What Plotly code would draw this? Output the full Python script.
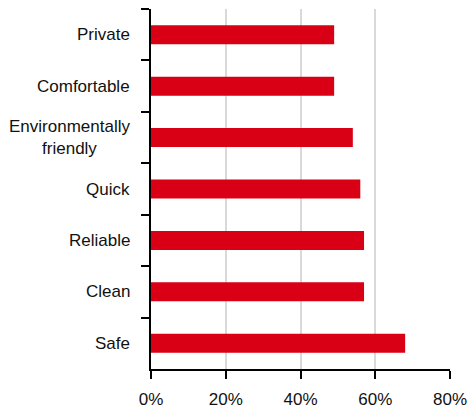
import plotly.graph_objects as go

# Share of respondents describing the car with each attribute
categories = ["Private", "Comfortable", "Environmentally<br>friendly", "Quick",
              "Reliable", "Clean", "Safe"]
values = [0.49, 0.49, 0.54, 0.56, 0.57, 0.57, 0.68]
x_ticks = [0, 0.2, 0.4, 0.6, 0.8]
x_tick_labels = ["0%", "20%", "40%", "60%", "80%"]

FONT = "Liberation Sans, Arial, sans-serif"
RED = "#D90016"
TEXT = "#111111"
SIZE = 17

fig = go.Figure(
    go.Bar(
        x=values,
        y=categories,
        orientation="h",
        marker=dict(color=RED, line=dict(width=0)),
        width=0.37,
    )
)

# Category labels drawn as annotations so two-line labels are centred
for cat in categories:
    fig.add_annotation(
        x=0, y=cat, xref="x", yref="y",
        text=cat, showarrow=False,
        xanchor="right", yanchor="middle", align="center",
        xshift=-19,
        font=dict(family=FONT, size=SIZE, color=TEXT),
    )

fig.update_layout(
    width=469, height=410,
    margin=dict(l=151, r=19, t=9, b=41, autoexpand=False),
    paper_bgcolor="white", plot_bgcolor="white",
    showlegend=False,
    font=dict(family=FONT, size=SIZE, color=TEXT),
    xaxis=dict(
        range=[0, 0.8],
        tickvals=x_ticks, ticktext=x_tick_labels,
        showgrid=True, gridcolor="#d9d9d9", gridwidth=2,
        zeroline=False,
        showline=True, linecolor="#000000", linewidth=1.5,
        ticks="outside", ticklen=8, tickwidth=1.5, tickcolor="#000000",
        ticklabelstandoff=6,
        tickfont=dict(family=FONT, size=SIZE, color=TEXT),
        automargin=False,
        fixedrange=True,
    ),
    yaxis=dict(
        categoryorder="array", categoryarray=categories,
        autorange=False, range=[6.5, -0.5],
        showticklabels=False,
        showgrid=False, zeroline=False,
        showline=True, linecolor="#000000", linewidth=1.5,
        ticks="outside", tickson="boundaries", ticklen=8,
        tickwidth=1.5, tickcolor="#000000",
        automargin=False,
        fixedrange=True,
    ),
)

fig.write_html("out.html")
